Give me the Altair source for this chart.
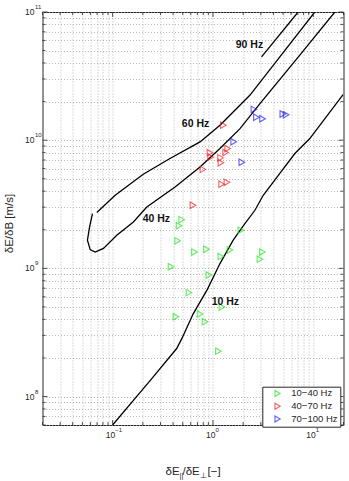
import altair as alt
import pandas as pd

# Dispersion curves: field ratio δE∥/δE⊥ against δE/δB for fixed wave frequencies
f10_x = [0.100, 0.242, 0.435, 0.489, 0.637, 0.877, 1.174, 1.59, 2.08, 2.62, 3.17, 4.64, 6.55, 9.23, 19.8]
f10_y = [6.0e7, 1.36e8, 2.37e8, 2.83e8, 4.44e8, 6.83e8, 1.09e9, 1.66e9, 2.23e9, 2.84e9, 3.72e9, 5.5e9, 7.87e9, 1.03e10, 2.27e10]

f40_x = [0.063, 0.0588, 0.0561, 0.0597, 0.067, 0.081, 0.110, 0.161, 0.219, 0.419, 0.743, 1.174, 1.86, 2.94, 7.34, 16.4]
f40_y = [2.67e9, 2.09e9, 1.66e9, 1.40e9, 1.34e9, 1.43e9, 1.81e9, 2.30e9, 3.01e9, 4.32e9, 6.19e9, 8.61e9, 1.23e10, 1.93e10, 4.61e10, 1.0e11]

f60_x = [0.0696, 0.106, 0.202, 0.373, 0.743, 1.174, 1.59, 2.33, 4.64, 10.35]
f60_y = [2.73e9, 3.72e9, 5.43e9, 7.2e9, 9.7e9, 1.31e10, 1.66e10, 2.24e10, 4.47e10, 1.0e11]

f90_x = [3.05, 7.06]
f90_y = [4.47e10, 1.0e11]

# Curve annotations
label_text = ["10 Hz", "40 Hz", "60 Hz", "90 Hz"]
label_x = [1.33, 0.273, 0.670, 2.31]
label_y = [5.47e8, 2.42e9, 1.33e10, 5.52e10]

# Observed events, grouped by frequency band
bands = ["10−40 Hz", "40−70 Hz", "70−100 Hz"]
band_colors = ["#1ee61e", "#f01e1e", "#1e1ef0"]

low_x = [0.488, 0.459, 0.445, 0.655, 0.862, 1.20, 1.476, 1.90, 3.11, 2.94, 0.382, 0.912, 0.577, 0.428, 0.743, 0.833, 1.229, 1.134]
low_y = [2.40e9, 2.15e9, 1.64e9, 1.34e9, 1.41e9, 1.24e9, 1.39e9, 1.98e9, 1.34e9, 1.18e9, 1.03e9, 8.88e8, 6.47e8, 4.19e8, 4.41e8, 3.84e8, 5.0e8, 2.26e8]

mid_x = [1.27, 0.934, 0.949, 1.40, 1.338, 1.193, 1.201, 0.795, 1.22, 1.378, 0.632]
mid_y = [1.31e10, 7.99e9, 7.37e9, 8.61e9, 8.02e9, 7.28e9, 6.67e9, 5.92e9, 4.54e9, 4.69e9, 3.11e9]

high_x = [2.56, 2.71, 3.12, 4.97, 5.36, 1.61, 1.94]
high_y = [1.74e10, 1.51e10, 1.47e10, 1.60e10, 1.58e10, 9.73e9, 6.73e9]

# Log axes: decades get labels, every 1..9 multiple gets a grid line
x_major = [0.1, 1, 10]
x_exponent = ["−1", "0", "1"]
x_minor = [m * 10.0 ** e for e in (-2, -1, 0) for m in range(2, 10)] + [20]
y_major = [1e8, 1e9, 1e10, 1e11]
y_exponent = ["8", "9", "10", "11"]
y_minor = [m * 1e7 for m in range(6, 10)] + [m * 10.0 ** e for e in (8, 9, 10) for m in range(2, 10)]

W, H = 301, 413
INK = "#262626"
FONT = "Liberation Sans"


def curve(name, xs, ys):
    return pd.DataFrame({"ratio": xs, "speed": ys, "freq": name, "seq": list(range(len(xs)))})


curves = pd.concat([
    curve("10 Hz", f10_x, f10_y),
    curve("40 Hz", f40_x, f40_y),
    curve("60 Hz", f60_x, f60_y),
    curve("90 Hz", f90_x, f90_y),
])

events = pd.concat([
    pd.DataFrame({"ratio": low_x, "speed": low_y, "band": bands[0]}),
    pd.DataFrame({"ratio": mid_x, "speed": mid_y, "band": bands[1]}),
    pd.DataFrame({"ratio": high_x, "speed": high_y, "band": bands[2]}),
])

labels = pd.DataFrame({"ratio": label_x, "speed": label_y, "text": label_text})
x_decades = pd.DataFrame({"v": x_major, "exp": x_exponent})
y_decades = pd.DataFrame({"v": y_major, "exp": y_exponent})

xscale = alt.Scale(type="log", domain=[0.02, 20], nice=False)
yscale = alt.Scale(type="log", domain=[6e7, 1e11], nice=False)

grid_style = dict(grid=True, gridDash=[1, 2], gridColor="#9a9a9a", gridWidth=0.7,
                  ticks=False, domain=False, labels=False)

x_axis = alt.Axis(values=x_major + x_minor, title=None, **grid_style)
y_axis = alt.Axis(values=y_major + y_minor,
                  title="δE/δB [m/s]", titleFont=FONT, titleFontSize=11.5,
                  titleFontWeight="normal", titleColor=INK, titleX=-33, titleY=211,
                  titleAlign="center", titleBaseline="middle", **grid_style)

lines = alt.Chart(curves).mark_line(color="black", strokeWidth=1.3, clip=True).encode(
    x=alt.X("ratio:Q", scale=xscale, axis=x_axis),
    y=alt.Y("speed:Q", scale=yscale, axis=y_axis),
    detail="freq:N",
    order="seq:Q",
)

points = alt.Chart(events).mark_point(shape="triangle-right", filled=False, size=42, strokeWidth=1.1).encode(
    x=alt.X("ratio:Q", scale=xscale),
    y=alt.Y("speed:Q", scale=yscale),
    color=alt.Color(
        "band:N",
        scale=alt.Scale(domain=bands, range=band_colors),
        legend=alt.Legend(
            title=None, orient="none", legendX=219.8, legendY=374.7,
            symbolType="triangle-right",
        ),
    ),
)

freq_labels = alt.Chart(labels).mark_text(
    font=FONT, fontSize=10.5, fontWeight="bold", color="#111111"
).encode(
    x=alt.X("ratio:Q", scale=xscale),
    y=alt.Y("speed:Q", scale=yscale),
    text="text:N",
)

# Tick labels as "10" with a raised exponent
x_base = alt.Chart(x_decades).mark_text(
    font=FONT, fontSize=8.5, color=INK, align="right", baseline="middle", dx=2.5
).encode(x=alt.X("v:Q", scale=xscale), y=alt.value(H + 10), text=alt.value("10"))
x_exp = alt.Chart(x_decades).mark_text(
    font=FONT, fontSize=6, color=INK, align="left", baseline="middle", dx=2.5
).encode(x=alt.X("v:Q", scale=xscale), y=alt.value(H + 5), text="exp:N")

y_base = alt.Chart(y_decades).mark_text(
    font=FONT, fontSize=8.5, color=INK, align="left", baseline="middle"
).encode(y=alt.Y("v:Q", scale=yscale), x=alt.value(-17.5), text=alt.value("10"))
y_exp = alt.Chart(y_decades).mark_text(
    font=FONT, fontSize=6, color=INK, align="left", baseline="middle", dy=-5
).encode(y=alt.Y("v:Q", scale=yscale), x=alt.value(-7.5), text="exp:N")


def tick_layer(values, channel, side, length):
    df = pd.DataFrame({"v": values})
    base = alt.Chart(df).mark_rule(color=INK, strokeWidth=0.8)
    if channel == "x":
        y0 = H if side == "far" else 0
        y1 = H - length if side == "far" else length
        return base.encode(x=alt.X("v:Q", scale=xscale), y=alt.value(y0), y2=alt.value(y1))
    x0 = 0 if side == "near" else W
    x1 = length if side == "near" else W - length
    return base.encode(y=alt.Y("v:Q", scale=yscale), x=alt.value(x0), x2=alt.value(x1))


ticks = []
for vals, ln in ((x_major, 5), (x_minor, 3)):
    ticks.append(tick_layer(vals, "x", "far", ln))
    ticks.append(tick_layer(vals, "x", "near", ln))
for vals, ln in ((y_major, 5), (y_minor, 3)):
    ticks.append(tick_layer(vals, "y", "near", ln))
    ticks.append(tick_layer(vals, "y", "far", ln))


# x-axis title with subscripted ∥ and ⊥
def title_piece(text, x, y, size):
    return alt.Chart(alt.Data(values=[{}])).mark_text(
        font=FONT, fontSize=size, color=INK, align="left", baseline="alphabetic"
    ).encode(x=alt.value(x), y=alt.value(y), text=alt.value(text))


TB = 463
xtitle = [
    title_piece("δE", 123, TB, 11.5),
    title_piece("||", 137, TB + 3, 7.5),
    title_piece("/δE", 140, TB, 11.5),
    title_piece("⊥", 157.5, TB + 3, 7.5),
    title_piece("[−]", 165, TB, 11.5),
]

chart = alt.layer(
    lines, *ticks, points, freq_labels, x_base, x_exp, y_base, y_exp, *xtitle
).properties(
    width=W, height=H,
    background="white",
    autosize=alt.AutoSizeParams(type="none"),
    padding={"left": 42.5, "top": 12, "right": 5.5, "bottom": 56},
).configure_view(
    stroke=INK, strokeWidth=1
).configure_legend(
    strokeColor=INK, fillColor="white", padding=2,
    symbolSize=36, symbolStrokeWidth=1.1, symbolOffset=8.5,
    labelOffset=9, rowPadding=1.8,
    labelFont=FONT, labelFontSize=9.5, labelColor=INK,
)

chart.save("out.html", embed_options={"renderer": "svg", "actions": False})
